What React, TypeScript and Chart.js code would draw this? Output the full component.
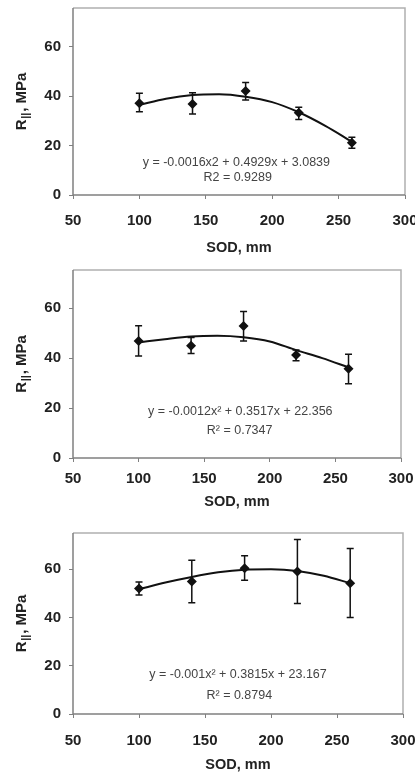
import React, { useEffect, useRef } from "react";
import { Chart, registerables } from "chart.js";

Chart.register(...registerables);

const FONT = "'Liberation Sans', Arial, Helvetica, sans-serif";
const W = 415;
const H = 258;

// SOD values (mm) of the measured points
const sodValues = [100, 140, 180, 220, 260];
// x positions where the fitted trend curve was read
const trendSod = [100, 120, 140, 160, 180, 200, 220, 240, 260];
const xTicks = [50, 100, 150, 200, 250, 300];
const yTicks = [0, 20, 40, 60];

// Panel 1
const p1Mean = [37.1, 36.8, 42.1, 33.3, 21.2];
const p1Low = [33.7, 32.8, 38.5, 30.6, 18.9];
const p1High = [41.2, 41.4, 45.5, 35.5, 23.4];
const p1Trend = [36.5, 39.0, 40.5, 40.8, 39.8, 37.6, 33.5, 28.0, 21.6];
const p1Eq = "y = -0.0016x2 + 0.4929x + 3.0839";
const p1R2 = "R2 = 0.9289";

// Panel 2
const p2Mean = [46.9, 45.0, 52.9, 41.3, 35.7];
const p2Low = [40.9, 41.9, 46.9, 39.0, 29.7];
const p2High = [53.0, 48.3, 58.7, 43.3, 41.6];
const p2Trend = [46.3, 47.6, 48.7, 49.0, 48.4, 46.7, 43.2, 40.0, 36.3];
const p2Eq = "y = -0.0012x\u00B2 + 0.3517x + 22.356";
const p2R2 = "R\u00B2 = 0.7347";

// Panel 3
const p3Mean = [52.0, 54.9, 60.4, 59.0, 54.2];
const p3Low = [49.3, 46.1, 55.4, 45.8, 40.0];
const p3High = [54.7, 63.7, 65.6, 72.3, 68.6];
const p3Trend = [51.7, 54.5, 56.8, 58.7, 59.8, 60.0, 59.3, 57.3, 54.2];
const p3Eq = "y = -0.001x\u00B2 + 0.3815x + 23.167";
const p3R2 = "R\u00B2 = 0.8794";

const xTitle = "SOD, mm";
const yTitleMain = "R";
const yTitleSub = "||";
const yTitleRest = ", MPa";

type PanelCfg = {
  top: number;
  mean: number[];
  low: number[];
  high: number[];
  trend: number[];
  eq: string;
  r2: string;
  yMax: number;
  area: { top: number; right: number; bottom: number; left: number };
  tickPad: number;
  titlePad: number;
  eqPos: { x: number; y: number };
  r2Pos: { x: number; y: number };
};

const panels: PanelCfg[] = [
  {
    top: 0,
    mean: p1Mean, low: p1Low, high: p1High, trend: p1Trend, eq: p1Eq, r2: p1R2,
    yMax: 75.7,
    area: { top: 8, right: 405, bottom: 195, left: 73 },
    tickPad: 12.4, titlePad: 1.0,
    eqPos: { x: 173, y: 13.2 }, r2Pos: { x: 174, y: 7.0 },
  },
  {
    top: 258,
    mean: p2Mean, low: p2Low, high: p2High, trend: p2Trend, eq: p2Eq, r2: p2R2,
    yMax: 75.3,
    area: { top: 12, right: 401, bottom: 200, left: 73 },
    tickPad: 8.0, titlePad: 5.6,
    eqPos: { x: 177.5, y: 18.6 }, r2Pos: { x: 177, y: 11.0 },
  },
  {
    top: 516,
    mean: p3Mean, low: p3Low, high: p3High, trend: p3Trend, eq: p3Eq, r2: p3R2,
    yMax: 75,
    area: { top: 17, right: 403, bottom: 198, left: 73 },
    tickPad: 13.7, titlePad: 0.3,
    eqPos: { x: 175, y: 16.3 }, r2Pos: { x: 176, y: 7.8 },
  },
];

const decorPlugin = {
  id: "decor",
  beforeDatasetsDraw(chart: any, _args: any, opts: any) {
    const { ctx, chartArea: a, scales } = chart;
    ctx.save();
    // plot box
    ctx.lineWidth = 1.5;
    ctx.strokeStyle = "#b0b0b0";
    ctx.beginPath();
    ctx.moveTo(a.left, a.top);
    ctx.lineTo(a.right, a.top);
    ctx.lineTo(a.right, a.bottom);
    ctx.stroke();
    ctx.strokeStyle = "#808080";
    ctx.beginPath();
    ctx.moveTo(a.left, a.top);
    ctx.lineTo(a.left, a.bottom);
    ctx.lineTo(a.right, a.bottom);
    ctx.stroke();
    // error bars
    ctx.strokeStyle = "#111";
    ctx.lineWidth = 1.5;
    const cap = 3.5;
    sodValues.forEach((sx: number, i: number) => {
      const px = scales.x.getPixelForValue(sx);
      const pl = scales.y.getPixelForValue(opts.low[i]);
      const ph = scales.y.getPixelForValue(opts.high[i]);
      ctx.beginPath();
      ctx.moveTo(px, ph);
      ctx.lineTo(px, pl);
      ctx.moveTo(px - cap, ph);
      ctx.lineTo(px + cap, ph);
      ctx.moveTo(px - cap, pl);
      ctx.lineTo(px + cap, pl);
      ctx.stroke();
    });
    ctx.restore();
  },
  afterDatasetsDraw(chart: any, _args: any, opts: any) {
    const { ctx, chartArea: a, scales } = chart;
    ctx.save();
    // equation text
    ctx.font = `12.5px ${FONT}`;
    ctx.fillStyle = "#444";
    ctx.textAlign = "center";
    ctx.textBaseline = "middle";
    ctx.fillText(opts.eq, scales.x.getPixelForValue(opts.eqPos.x), scales.y.getPixelForValue(opts.eqPos.y));
    ctx.fillText(opts.r2, scales.x.getPixelForValue(opts.r2Pos.x), scales.y.getPixelForValue(opts.r2Pos.y));
    // y title with subscript
    const mainFont = `bold 15px ${FONT}`;
    const subFont = `bold 11px ${FONT}`;
    ctx.font = mainFont;
    const wR = ctx.measureText(yTitleMain).width;
    const wRest = ctx.measureText(yTitleRest).width;
    ctx.font = subFont;
    const wSub = ctx.measureText(yTitleSub).width + 1.5;
    const total = wR + wSub + wRest;
    ctx.translate(22, (a.top + a.bottom) / 2);
    ctx.rotate(-Math.PI / 2);
    ctx.fillStyle = "#222";
    ctx.textAlign = "left";
    ctx.textBaseline = "middle";
    let sx = -total / 2;
    ctx.font = mainFont;
    ctx.fillText(yTitleMain, sx, 0);
    sx += wR;
    ctx.font = subFont;
    ctx.fillText(yTitleSub, sx + 0.7, 3.5);
    sx += wSub;
    ctx.font = mainFont;
    ctx.fillText(yTitleRest, sx, 0);
    ctx.restore();
  },
};

function Panel({ cfg }: { cfg: PanelCfg }) {
  const ref = useRef<HTMLCanvasElement | null>(null);
  useEffect(() => {
    if (!ref.current) return;
    const tickFont = { family: FONT, size: 15, weight: "bold" as const };
    const titleFont = { family: FONT, size: 14.5, weight: "bold" as const };
    const chart = new Chart(ref.current, {
      type: "scatter",
      data: {
        datasets: [
          {
            label: "mean",
            data: sodValues.map((x, i) => ({ x, y: cfg.mean[i] })),
            pointStyle: "rectRot",
            pointRadius: 5,
            backgroundColor: "#111",
            borderColor: "#111",
            borderWidth: 0,
            showLine: false,
          },
          {
            label: "trend",
            data: trendSod.map((x, i) => ({ x, y: cfg.trend[i] })),
            showLine: true,
            borderColor: "#111",
            borderWidth: 2,
            pointRadius: 0,
            tension: 0.4,
            cubicInterpolationMode: "monotone",
          } as any,
        ],
      },
      options: {
        responsive: false,
        animation: false,
        devicePixelRatio: 1,
        layout: { padding: { top: cfg.area.top, right: W - cfg.area.right, left: 0, bottom: 0 } },
        plugins: {
          legend: { display: false },
          tooltip: { enabled: false },
          decor: {
            low: cfg.low,
            high: cfg.high,
            eq: cfg.eq,
            r2: cfg.r2,
            eqPos: cfg.eqPos,
            r2Pos: cfg.r2Pos,
          },
        } as any,
        scales: {
          x: {
            type: "linear",
            min: xTicks[0],
            max: xTicks[xTicks.length - 1],
            afterBuildTicks: (s: any) => {
              s.ticks = xTicks.map((v) => ({ value: v }));
            },
            ticks: { font: tickFont, color: "#222", padding: cfg.tickPad, maxRotation: 0, autoSkip: false },
            grid: { drawOnChartArea: false, drawTicks: true, tickLength: 4, color: "#808080" },
            border: { display: false },
            title: {
              display: true,
              text: xTitle,
              font: titleFont,
              color: "#222",
              padding: { top: 0, bottom: cfg.titlePad },
            },
            afterFit: (s: any) => {
              s.height = H - cfg.area.bottom;
              s.paddingLeft = 0;
              s.paddingRight = 0;
            },
          },
          y: {
            type: "linear",
            min: 0,
            max: cfg.yMax,
            afterBuildTicks: (s: any) => {
              s.ticks = yTicks.map((v) => ({ value: v }));
            },
            ticks: { font: tickFont, color: "#222", padding: 8 },
            grid: { drawOnChartArea: false, drawTicks: true, tickLength: 4, color: "#808080" },
            border: { display: false },
            afterFit: (s: any) => {
              s.width = cfg.area.left;
              s.paddingTop = 0;
              s.paddingBottom = 0;
            },
          },
        },
      },
      plugins: [decorPlugin],
    });
    return () => chart.destroy();
  }, [cfg]);
  return (
    <canvas
      ref={ref}
      width={W}
      height={H}
      style={{ position: "absolute", left: 0, top: cfg.top, width: W, height: H }}
    />
  );
}

export default function App() {
  return (
    <div style={{ position: "absolute", left: 0, top: 0, width: W, height: 774, background: "#fff", overflow: "hidden" }}>
      {panels.map((p, i) => (
        <Panel key={i} cfg={p} />
      ))}
    </div>
  );
}
